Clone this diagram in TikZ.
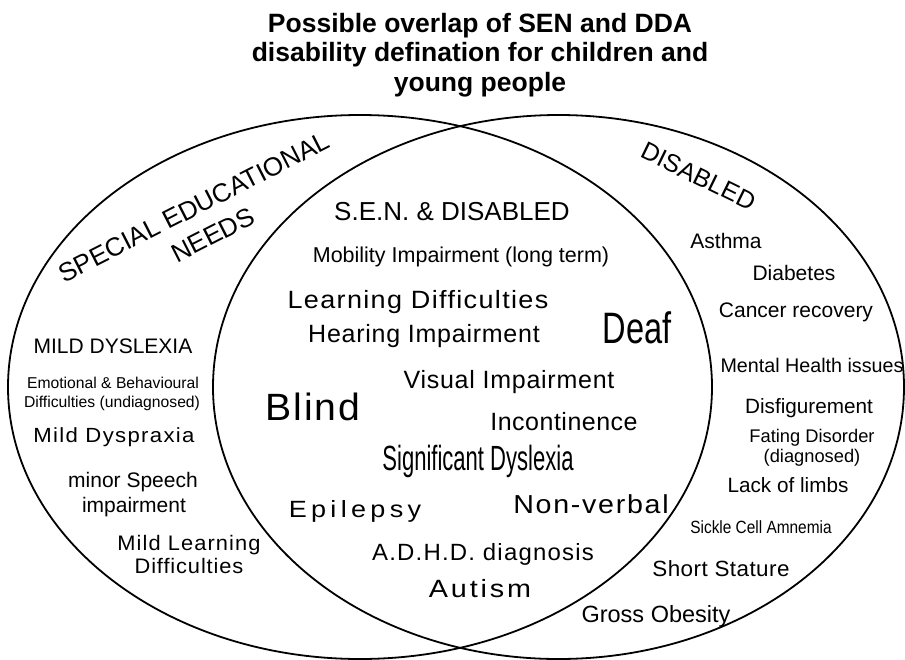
\documentclass[tikz,border=0pt]{standalone}
\usepackage{fontspec}
\setmainfont{Liberation Sans}
\usepackage{graphicx}
\newcommand{\fsz}[1]{\fontsize{#1}{#1}\selectfont}
\newcommand{\trk}[1]{\addfontfeatures{LetterSpace=#1}}
\newcommand{\narrow}[2]{\scalebox{#1}[1]{#2}}

\begin{document}
\begin{tikzpicture}[x=1pt, y=-1pt,
						lbl/.style = {anchor=base, inner sep=0pt},
						rim/.style = {line width=1.8pt}
					]
					\useasboundingbox (0,0) rectangle (905,659);
					% the two sets
					\draw[rim] (360,387) ellipse [x radius=352, y radius=272];
					\draw[rim] (558.5,387) ellipse [x radius=345.5, y radius=272];
					\node[anchor=north, inner sep=0pt, align=center, font=\bfseries\fontsize{26.5}{29.5}\selectfont] (title) at (480,12.7) {Possible overlap of SEN and DDA\\disability defination for children and\\young people};
					% headings
					\node[lbl, rotate=27, font=\fsz{26}] (senhead) at (198,215) {SPECIAL EDUCATIONAL};
					\node[lbl, rotate=27, font=\fsz{26}] (senneeds) at (217,243) {NEEDS};
					\node[lbl, rotate=-26, font=\fsz{25}] (dishead) at (695,184) {DISABLED};
					% SEN only
					\foreach \x/\y/\s/\k/\w/\t [count=\i] in {113/353/21/0/1/{MILD DYSLEXIA}, 113/388/15.7/0/1/{Emotional \& Behavioural}, 112/407/15.7/0/1/{Difficulties (undiagnosed)}, 114/442/20.5/6/1.08/{Mild Dyspraxia}, 133/487/21/0/1/{minor Speech}, 134/512/21/0/1/{impairment}, 189/550/21/5/1.04/{Mild Learning}, 189/573/21/4/1.04/{Difficulties}}{ \node[lbl, font=\fsz{\s}\trk{\k}] (sen\i) at (\x,\y) {\narrow{\w}{\t}};}
					% disabled only
					\foreach \x/\y/\s/\k/\w/\t [count=\i] in {726/248/21/0/1/{Asthma}, 794/280/21/0/1/{Diabetes}, 796/317/21/0/1/{Cancer recovery}, 812/372/19.7/0/1/{Mental Health issues}, 809/413/20.7/0/1/{Disfigurement}, 812/442/18.3/0/1/{Fating Disorder}, 812/462/18.3/0/1/{(diagnosed)}, 788/492/20.7/0/1/{Lack of limbs}, 761/533/17.7/0/0.87/{Sickle Cell Amnemia}, 721/576/22/2/1.02/{Short Stature}, 656/622/23.5/0/1/{Gross Obesity}}{ \node[lbl, font=\fsz{\s}\trk{\k}] (dis\i) at (\x,\y) {\narrow{\w}{\t}};}
					% both
					\foreach \x/\y/\s/\k/\w/\t [count=\i] in {452/220/26/0/1/{S.E.N. \& DISABLED}, 461/262/21.5/0/1/{Mobility Impairment (long term)}, 418/308/25/5/1.08/{Learning Difficulties}, 424/342/25/3/1/{Hearing Impairment}, 509/388/25/3/1/{Visual Impairment}, 313/420/38/5/1.03/{Blind}, 564/430/25/2/1/{Incontinence}, 355/517/23.5/16/1.15/{Epilepsy}, 591/513/26/6/1.1/{Non-verbal}, 483/560/23.5/5/1.02/{A.D.H.D. diagnosis}, 480/597/25/10/1.15/{Autism}}{ \node[lbl, font=\fsz{\s}\trk{\k}] (both\i) at (\x,\y) {\narrow{\w}{\t}};}
					\node[lbl, font=\fsz{44}] (deaf) at (637,343) {\narrow{0.74}{Deaf}};
					\node[lbl, font=\fsz{35}] (dyslexia) at (478,470) {\narrow{0.63}{Significant Dyslexia}};
				\end{tikzpicture}
\end{document}
